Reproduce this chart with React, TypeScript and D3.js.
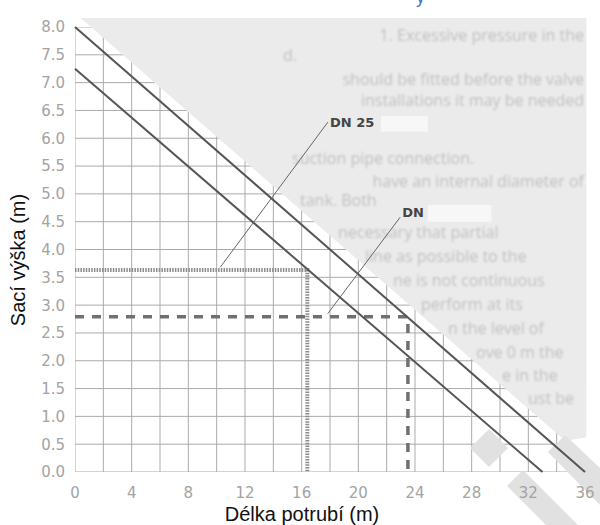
import React from 'react';
import * as d3 from 'd3';

// Axis ticks (m)
const X_TICKS = [0, 4, 8, 12, 16, 20, 24, 28, 32, 36];
const Y_TICKS = [0, 0.5, 1, 1.5, 2, 2.5, 3, 3.5, 4, 4.5, 5, 5.5, 6, 6.5, 7, 7.5, 8];
const GRID_X = [0, 2, 4, 6, 8, 10, 12, 14, 16, 18, 20, 22, 24, 26, 28, 30, 32, 34, 36];

// Two suction-height limit lines [pipe length, suction height]
const UPPER_LINE: [number, number][] = [[0, 8.0], [36, 0]];
const LOWER_LINE: [number, number][] = [[0, 7.25], [33, 0]];

// Read-off guides
const DOTTED_GUIDE: [number, number][] = [[0, 3.63], [16.4, 3.63], [16.4, 0]];
const DASHED_GUIDE: [number, number][] = [[0, 2.79], [23.5, 2.79], [23.5, 0]];

// Leader lines and labels
const LEADERS = [
  { label: 'DN 25', from: [10.25, 3.68], to: [17.85, 6.29], text: [18.0, 6.2], mask: [21.6, 6.4, 3.3, 0.28] },
  { label: 'DN', from: [17.85, 2.85], to: [22.95, 4.58], text: [23.1, 4.58], mask: [24.9, 4.8, 4.5, 0.3] },
];

// Scanned page behind the chart: region boundary and faint text lines (pixels)
const PAGE_REGION: [number, number][] = [[0.4, 8.16], [36.1, 8.16], [36.1, 0.62], [34.6, 0.56]];
const GRID_REGION: [number, number][] = [[0, 0], [0, 8], [1.12, 8], [36, 0.25], [36, 0]];
const GHOST_LINES = [
  { y: 41, x: 584, anchor: 'end', text: '1. Excessive pressure in the' },
  { y: 61, x: 283, anchor: 'start', text: 'd.' },
  { y: 85, x: 584, anchor: 'end', text: 'should be fitted before the valve' },
  { y: 106, x: 584, anchor: 'end', text: 'installations it may be needed' },
  { y: 164, x: 292, anchor: 'start', text: 'suction pipe connection.' },
  { y: 187, x: 584, anchor: 'end', text: 'have an internal diameter of' },
  { y: 206, x: 300, anchor: 'start', text: 'tank. Both' },
  { y: 238, x: 338, anchor: 'start', text: 'necessary that partial' },
  { y: 262, x: 365, anchor: 'start', text: 'line as possible to the' },
  { y: 286, x: 393, anchor: 'start', text: 'ne is not continuous' },
  { y: 310, x: 421, anchor: 'start', text: 'perform at its' },
  { y: 334, x: 448, anchor: 'start', text: 'n the level of' },
  { y: 358, x: 476, anchor: 'start', text: 'ove 0 m the' },
  { y: 381, x: 502, anchor: 'start', text: 'e in the' },
  { y: 404, x: 528, anchor: 'start', text: 'ust be' },
];

const W = 600;
const H = 525;

export default function App(): React.ReactElement {
  const x = d3.scaleLinear().domain([0, 36]).range([75, 585]);
  const y = d3.scaleLinear().domain([0, 8]).range([472, 27]);

  const line = d3.line<[number, number]>()
    .x((d) => x(d[0]))
    .y((d) => y(d[1]));

  const poly = (pts: [number, number][]) =>
    pts.map((p) => `${x(p[0])},${y(p[1])}`).join(' ');

  const tickFont = '"DejaVu Sans", Verdana, sans-serif';
  const labelFont = '"Liberation Sans", Arial, sans-serif';

  return (
    <svg
      width={W}
      height={H}
      style={{ position: 'absolute', left: 0, top: 0, background: '#fff' }}
    >
      <defs>
        <clipPath id="grid-clip">
          <polygon points={poly(GRID_REGION)} />
        </clipPath>
        <clipPath id="page-clip">
          <polygon points={poly(PAGE_REGION)} />
        </clipPath>
        <filter id="soft" x="-5%" y="-50%" width="110%" height="200%">
          <feGaussianBlur stdDeviation="1.1" />
        </filter>
      </defs>

      <rect width={W} height={H} fill="#fff" />

      {/* scanned page showing through */}
      <polygon points={poly(PAGE_REGION)} fill="#ebebeb" />
      <g clipPath="url(#page-clip)">
        <g filter="url(#soft)">
          {GHOST_LINES.map((g) => (
            <text
              key={g.y}
              x={g.x}
              y={g.y}
              textAnchor={g.anchor}
              fontFamily={'"Open Sans", sans-serif'}
              fontSize={16}
              fill="#c0c0c0"
            >
              {g.text}
            </text>
          ))}
        </g>
      </g>
      <text x={416} y={3} fontFamily={labelFont} fontSize={18} fill="#3b72c2">y</text>

      {/* grid */}
      <g clipPath="url(#grid-clip)" stroke="#ababab" strokeWidth={1}>
        {GRID_X.map((v) => (
          <line key={`gx${v}`} x1={x(v)} x2={x(v)} y1={y(0)} y2={y(8)} />
        ))}
        {Y_TICKS.map((v) => (
          <line key={`gy${v}`} x1={x(0)} x2={x(36)} y1={y(v)} y2={y(v)} />
        ))}
      </g>

      {/* watermark pieces */}
      <g fill="#e1e1e1">
        <polygon points="489,429 508,448 489,467 470,448" />
        <polygon points="523,470 593,540 577,556 507,486" />
        <polygon points="548,452 565,435 600,468 600,505" />
      </g>

      {/* read-off guides */}
      <path d={line(DOTTED_GUIDE) ?? ''} fill="none" stroke="#8c8c8c" strokeWidth={4} strokeDasharray="1.5,1.2" />
      <path d={line(DASHED_GUIDE) ?? ''} fill="none" stroke="#707070" strokeWidth={3.5} strokeDasharray="9,8" />

      {/* limit lines */}
      <path d={line(UPPER_LINE) ?? ''} fill="none" stroke="#555" strokeWidth={2} />
      <path d={line(LOWER_LINE) ?? ''} fill="none" stroke="#555" strokeWidth={2} />

      {/* leaders */}
      {LEADERS.map((l) => (
        <g key={l.label}>
          <rect
            x={x(l.mask[0])}
            y={y(l.mask[1])}
            width={x(l.mask[2]) - x(0)}
            height={y(0) - y(l.mask[3])}
            fill="#f7f7f7"
          />
          <line
            x1={x(l.from[0])}
            y1={y(l.from[1])}
            x2={x(l.to[0])}
            y2={y(l.to[1])}
            stroke="#666"
            strokeWidth={1}
          />
          <text
            x={x(l.text[0])}
            y={y(l.text[1])}
            fontFamily={tickFont}
            fontWeight="bold"
            fontSize={13}
            fill="#444"
          >
            {l.label}
          </text>
        </g>
      ))}

      {/* tick labels */}
      {Y_TICKS.map((v) => (
        <text
          key={`ty${v}`}
          x={65}
          y={y(v)}
          dy="0.36em"
          textAnchor="end"
          fontFamily={tickFont}
          fontSize={15}
          fill="#a3a3a3"
        >
          {v.toFixed(1)}
        </text>
      ))}
      {X_TICKS.map((v) => (
        <text
          key={`tx${v}`}
          x={x(v)}
          y={498}
          textAnchor="middle"
          fontFamily={tickFont}
          fontSize={15}
          fill="#a3a3a3"
        >
          {v}
        </text>
      ))}

      {/* axis titles */}
      <text
        x={302}
        y={521}
        textAnchor="middle"
        fontFamily={labelFont}
        fontSize={20}
        fill="#111"
      >
        Délka potrubí (m)
      </text>
      <text
        transform="translate(25,260) rotate(-90)"
        textAnchor="middle"
        fontFamily={labelFont}
        fontSize={20}
        fill="#111"
      >
        Sací výška (m)
      </text>
    </svg>
  );
}
